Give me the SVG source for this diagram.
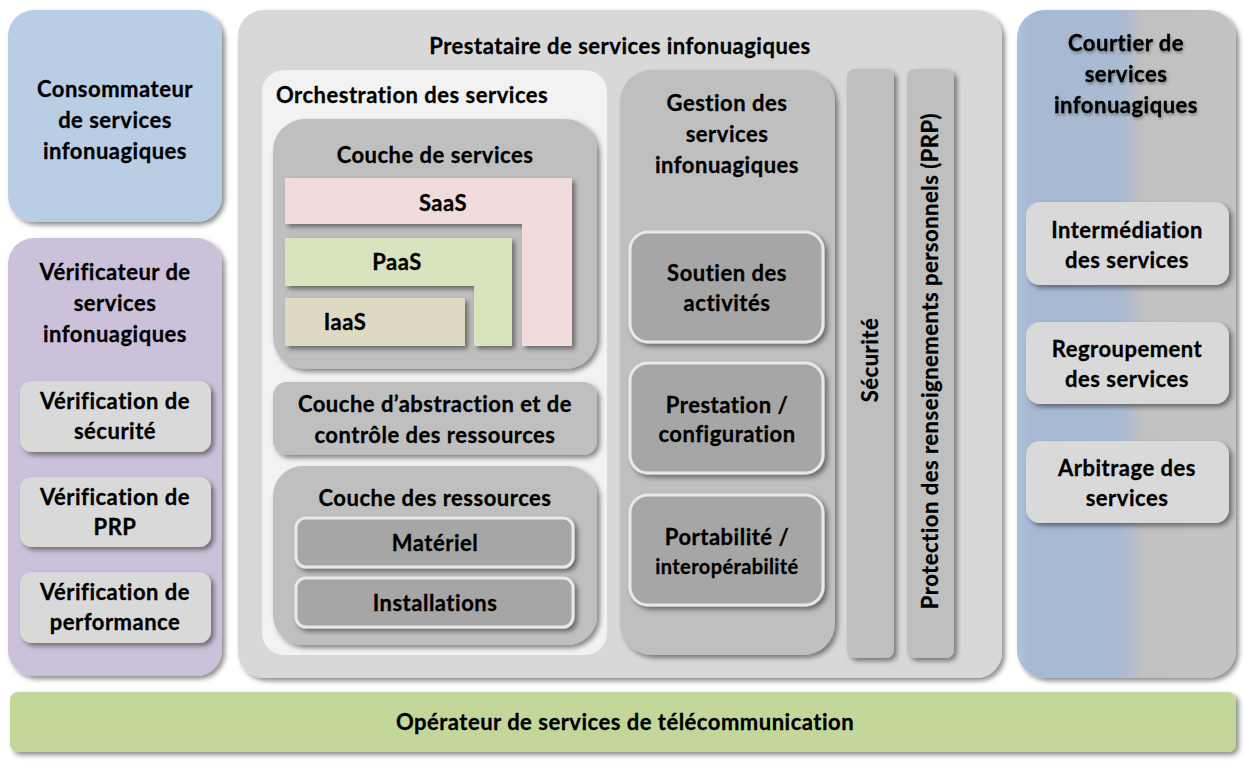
<svg xmlns="http://www.w3.org/2000/svg" width="1244" height="761" viewBox="0 0 1244 761">
<defs>
<filter id="sh" x="-10%" y="-10%" width="125%" height="125%">
<feDropShadow dx="3" dy="3" stdDeviation="2.5" flood-color="#000" flood-opacity="0.45"/>
</filter>
<filter id="tsh" x="-10%" y="-30%" width="120%" height="160%">
<feDropShadow dx="1" dy="2" stdDeviation="1.5" flood-color="#000" flood-opacity="0.35"/>
</filter>
<linearGradient id="brk" x1="0" y1="0" x2="1" y2="0">
<stop offset="0" stop-color="#b0c1d8"/>
<stop offset="0.06" stop-color="#a7b9d3"/>
<stop offset="0.47" stop-color="#a9bad2"/>
<stop offset="0.58" stop-color="#c1c1c1"/>
<stop offset="1" stop-color="#c3c3c3"/>
</linearGradient>
<style>
text{font-family:Lato,"Open Sans","Liberation Sans",sans-serif;font-weight:700;font-size:22px;letter-spacing:0.5px;fill:#000;text-anchor:middle;stroke:#000;stroke-width:0.3px}
.s{filter:url(#sh)}
.sub{fill:#d9d9d9}
.dk{fill:#a6a6a6;stroke:#e8e8e8;stroke-width:3}
.mid{fill:#bfbfbf}
</style>
</defs>

<g id="consommateur">
<rect class="s" x="8" y="10" width="214" height="212" rx="26" fill="#b9cde5"/>
<text x="115" y="97">Consommateur</text>
<text x="115" y="128">de services</text>
<text x="115" y="159">infonuagiques</text>
</g>

<g id="verificateur">
<rect class="s" x="8" y="238" width="214" height="438" rx="26" fill="#ccc1da"/>
<text x="115" y="280">Vérificateur de</text>
<text x="115" y="311">services</text>
<text x="115" y="342">infonuagiques</text>
<g id="verif-securite">
<rect class="s sub" x="20" y="381" width="191" height="71" rx="12"/>
<text x="115" y="409">Vérification de</text>
<text x="115" y="439">sécurité</text>
</g>
<g id="verif-prp">
<rect class="s sub" x="20" y="477" width="191" height="70" rx="12"/>
<text x="115" y="505">Vérification de</text>
<text x="115" y="535">PRP</text>
</g>
<g id="verif-performance">
<rect class="s sub" x="20" y="572" width="191" height="71" rx="12"/>
<text x="115" y="600">Vérification de</text>
<text x="115" y="630">performance</text>
</g>
</g>

<g id="prestataire">
<rect class="s" x="238" y="10" width="764" height="668" rx="26" fill="#d8d8d8"/>
<text x="620" y="54">Prestataire de services infonuagiques</text>

<g id="orchestration">
<rect x="262" y="70" width="345" height="585" rx="22" fill="#f2f2f2"/>
<text x="276" y="103" style="text-anchor:start">Orchestration des services</text>

<g id="couche-services">
<rect class="s mid" x="273" y="119" width="324" height="250" rx="32"/>
<text x="435" y="163">Couche de services</text>
<g id="saas">
<path class="s" d="M285,178 H572 V346 H522 V224 H285 Z" fill="#f2dcdb"/>
<text x="443" y="211">SaaS</text>
</g>
<g id="paas">
<path class="s" d="M285,238 H512 V346 H474 V286 H285 Z" fill="#d7e4bd"/>
<text x="397" y="270">PaaS</text>
</g>
<g id="iaas">
<rect class="s" x="285" y="298" width="180" height="48" fill="#ddd9c3"/>
<text x="345" y="330">IaaS</text>
</g>
</g>

<g id="couche-abstraction">
<rect class="s mid" x="273" y="382" width="324" height="73" rx="14"/>
<text x="435" y="412">Couche d’abstraction et de</text>
<text x="435" y="443">contrôle des ressources</text>
</g>

<g id="couche-ressources">
<rect class="s mid" x="273" y="466" width="324" height="179" rx="30"/>
<text x="435" y="506">Couche des ressources</text>
<g id="materiel">
<rect class="s dk" x="296" y="518" width="277" height="49" rx="10"/>
<text x="435" y="551">Matériel</text>
</g>
<g id="installations">
<rect class="s dk" x="296" y="578" width="277" height="49" rx="10"/>
<text x="435" y="611">Installations</text>
</g>
</g>
</g>

<g id="gestion">
<rect class="s mid" x="620" y="70" width="215" height="585" rx="32"/>
<text x="727" y="111">Gestion des</text>
<text x="727" y="142">services</text>
<text x="727" y="173">infonuagiques</text>
<g id="soutien">
<rect class="s dk" x="630" y="232" width="193" height="110" rx="18"/>
<text x="727" y="281">Soutien des</text>
<text x="727" y="311">activités</text>
</g>
<g id="prestation">
<rect class="s dk" x="630" y="363" width="193" height="110" rx="18"/>
<text x="727" y="413">Prestation /</text>
<text x="727" y="442">configuration</text>
</g>
<g id="portabilite">
<rect class="s dk" x="630" y="495" width="193" height="110" rx="18"/>
<text x="727" y="545">Portabilité /</text>
<text x="727" y="574" style="font-size:20px;letter-spacing:0.4px">interopérabilité</text>
</g>
</g>

<g id="securite">
<rect class="s mid" x="847" y="69" width="47" height="589" rx="8"/>
<text transform="translate(878,360) rotate(-90)">Sécurité</text>
</g>

<g id="prp">
<rect class="s mid" x="907" y="69" width="47" height="589" rx="8"/>
<text transform="translate(938,361) rotate(-90)">Protection des renseignements personnels (PRP)</text>
</g>
</g>

<g id="courtier">
<rect class="s" x="1017" y="10" width="219" height="668" rx="28" fill="url(#brk)"/>
<g filter="url(#tsh)">
<text x="1126" y="51">Courtier de</text>
<text x="1126" y="82">services</text>
<text x="1126" y="113">infonuagiques</text>
</g>
<g id="intermediation">
<rect class="s sub" x="1026" y="202" width="203" height="83" rx="14"/>
<text x="1127" y="238">Intermédiation</text>
<text x="1127" y="268">des services</text>
</g>
<g id="regroupement">
<rect class="s sub" x="1026" y="322" width="203" height="82" rx="14"/>
<text x="1127" y="357">Regroupement</text>
<text x="1127" y="387">des services</text>
</g>
<g id="arbitrage">
<rect class="s sub" x="1026" y="441" width="203" height="82" rx="14"/>
<text x="1127" y="476">Arbitrage des</text>
<text x="1127" y="506">services</text>
</g>
</g>

<g id="operateur">
<rect class="s" x="10" y="692" width="1226" height="60" rx="8" fill="#c4d79b"/>
<text x="625" y="730">Opérateur de services de télécommunication</text>
</g>

<g id="connectors"/>
</svg>
